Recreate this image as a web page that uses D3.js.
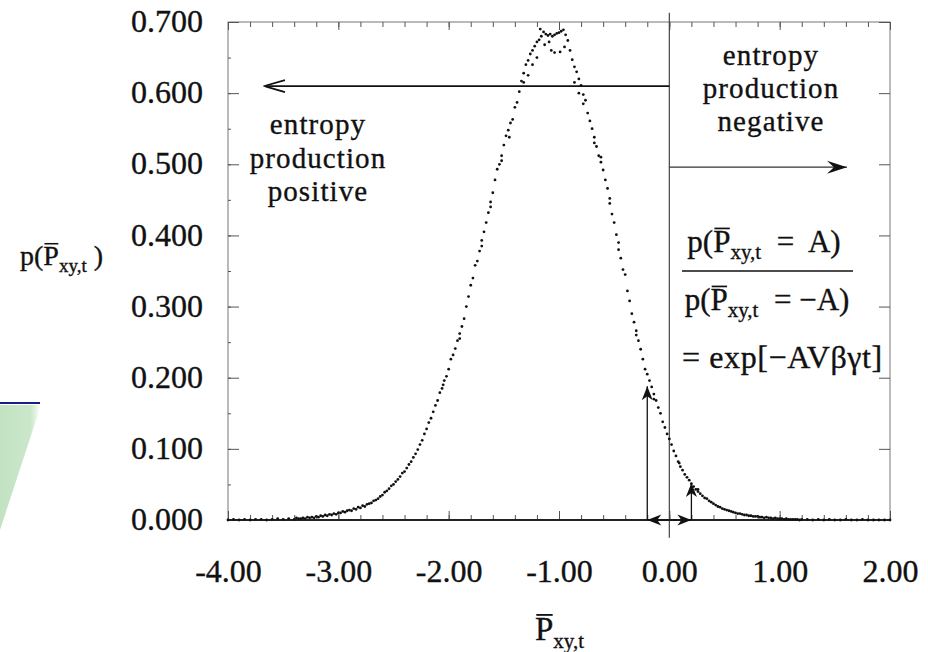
<!DOCTYPE html>
<html>
<head>
<meta charset="utf-8">
<script src="https://cdn.jsdelivr.net/npm/d3@7"></script>
<style>
  body { margin: 0; background: #fff; }
  text { font-family: "Liberation Serif", "Times New Roman", serif; fill: #111; white-space: pre; stroke: #111; stroke-width: 0.35px; }
</style>
</head>
<body>
<svg id="chart" width="928" height="652"></svg>
<script>
// tick values / labels
const xTickValues = [-4, -3, -2, -1, 0, 1, 2];
const xTickLabels = ["-4.00", "-3.00", "-2.00", "-1.00", "0.00", "1.00", "2.00"];
const yTickValues = [0, 0.1, 0.2, 0.3, 0.4, 0.5, 0.6, 0.7];
const yTickLabels = ["0.000", "0.100", "0.200", "0.300", "0.400", "0.500", "0.600", "0.700"];

// histogram points p(P)
const tailLeft = [
  [-4.00,0.000],[-3.95,0.001],[-3.90,0.000],[-3.85,0.001],[-3.80,0.000],[-3.75,0.001],
  [-3.70,0.001],[-3.65,0.000],[-3.60,0.001],[-3.55,0.002],[-3.50,0.001],[-3.45,0.002]
];
const bodyPts = [
  [-3.40,0.001],[-3.38,0.003],[-3.36,0.002],[-3.34,0.002],[-3.32,0.003],[-3.30,0.002],[-3.28,0.004],[-3.26,0.003],
  [-3.24,0.004],[-3.22,0.003],[-3.20,0.005],[-3.18,0.004],[-3.16,0.006],[-3.14,0.005],[-3.12,0.007],[-3.10,0.006],
  [-3.08,0.008],[-3.06,0.007],[-3.04,0.009],[-3.02,0.008],[-3.00,0.010],[-2.98,0.010],[-2.96,0.012],[-2.94,0.011],
  [-2.92,0.013],[-2.90,0.014],[-2.88,0.013],[-2.86,0.016],[-2.84,0.015],[-2.82,0.018],[-2.80,0.017],[-2.78,0.020],
  [-2.76,0.019],[-2.74,0.022],[-2.72,0.023],[-2.70,0.024],[-2.68,0.027],[-2.66,0.028],[-2.64,0.030],[-2.62,0.033],
  [-2.60,0.035],[-2.58,0.039],[-2.56,0.041],[-2.54,0.044],[-2.52,0.048],[-2.50,0.050],[-2.48,0.054],[-2.46,0.057],
  [-2.44,0.061],[-2.42,0.066],[-2.40,0.068],[-2.38,0.073],[-2.36,0.078],[-2.34,0.082],[-2.32,0.088],[-2.30,0.093],
  [-2.28,0.099],[-2.26,0.106],[-2.24,0.112],[-2.22,0.121],[-2.20,0.128],[-2.18,0.137],[-2.16,0.143],[-2.14,0.152],
  [-2.12,0.161],[-2.10,0.168],[-2.08,0.179],[-2.06,0.185],[-2.04,0.196],[-2.02,0.202],[-2.00,0.212],[-1.98,0.226],
  [-1.96,0.232],[-1.94,0.241],[-1.92,0.252],[-1.90,0.262],[-1.88,0.272],[-1.86,0.283],[-1.84,0.300],[-1.82,0.314],
  [-1.80,0.330],[-1.78,0.340],[-1.76,0.358],[-1.74,0.364],[-1.72,0.378],[-1.70,0.393],[-1.68,0.405],[-1.66,0.418],
  [-1.64,0.432],[-1.62,0.447],[-1.60,0.460],[-1.58,0.478],[-1.56,0.493],[-1.54,0.500],[-1.52,0.512],[-1.50,0.527],
  [-1.48,0.540],[-1.46,0.548],[-1.44,0.558],[-1.42,0.563],[-1.40,0.580],[-1.38,0.587],[-1.36,0.602],[-1.34,0.617],
  [-1.32,0.628],[-1.30,0.640],[-1.28,0.646],[-1.26,0.655],[-1.24,0.660],[-1.22,0.666],[-1.20,0.672],[-1.18,0.675],
  [-1.16,0.680],[-1.14,0.686],[-1.12,0.683],[-1.10,0.681],[-1.08,0.683],[-1.06,0.680],[-1.04,0.682],[-1.02,0.684],
  [-1.00,0.685],[-0.98,0.687],[-0.96,0.689],[-0.94,0.682],[-0.92,0.674],[-0.90,0.660],[-0.88,0.647],[-0.86,0.637],
  [-0.84,0.630],[-0.82,0.620],[-0.80,0.611],[-0.78,0.598],[-0.76,0.590],[-0.74,0.572],[-0.72,0.561],[-0.70,0.550],
  [-0.68,0.538],[-0.66,0.525],[-0.64,0.512],[-0.62,0.503],[-0.60,0.492],[-0.58,0.478],[-0.56,0.466],[-0.54,0.452],
  [-0.52,0.430],[-0.50,0.418],[-0.48,0.401],[-0.46,0.390],[-0.44,0.368],[-0.42,0.352],[-0.40,0.345],[-0.38,0.322],
  [-0.36,0.308],[-0.34,0.290],[-0.32,0.278],[-0.30,0.266],[-0.28,0.252],[-0.26,0.240],[-0.24,0.226],[-0.22,0.212],
  [-0.20,0.205],[-0.18,0.196],[-0.16,0.187],[-0.14,0.177],[-0.12,0.168],[-0.10,0.158],[-0.08,0.150],[-0.06,0.138],
  [-0.04,0.130],[-0.02,0.121],[0.00,0.114],[0.02,0.106],[0.04,0.097],[0.06,0.090],[0.08,0.082],[0.10,0.075],
  [0.12,0.070],[0.14,0.064],[0.16,0.060],[0.18,0.056],[0.20,0.051],[0.22,0.047],[0.24,0.043],[0.26,0.040],
  [0.28,0.037],[0.30,0.034],[0.32,0.031],[0.34,0.030],[0.36,0.027],[0.38,0.025],[0.40,0.023],[0.42,0.021],
  [0.44,0.019],[0.46,0.018],[0.48,0.016],[0.50,0.015],[0.52,0.014],[0.54,0.013],[0.56,0.012],[0.58,0.011],
  [0.60,0.010],[0.62,0.009],[0.64,0.009],[0.66,0.008],[0.68,0.007],[0.70,0.007],[0.72,0.006],[0.74,0.006],
  [0.76,0.005],[0.78,0.005],[0.80,0.005],[0.82,0.004],[0.84,0.004],[0.86,0.003],[0.88,0.004],[0.90,0.003],
  [0.92,0.003],[0.94,0.002],[0.96,0.003],[0.98,0.002],[1.00,0.002],[1.02,0.002],[1.04,0.001],[1.06,0.002],
  [1.08,0.001],[1.10,0.001],[1.12,0.001],[1.14,0.001],[1.16,0.001],[1.18,0.000],[1.20,0.001]
];
const tailRight = [
  [1.25,0.001],[1.30,0.000],[1.35,0.001],[1.40,0.000],[1.45,0.001],[1.50,0.000],[1.55,0.000],[1.60,0.001],
  [1.65,0.000],[1.70,0.000],[1.75,0.001],[1.80,0.000],[1.85,0.000],[1.90,0.000],[1.95,0.000],[2.00,0.000]
];
const extraPts = [
  [-1.13,0.668],[-1.07,0.660],[-1.04,0.657],[-0.99,0.658],[-0.95,0.665],[-1.20,0.650],[-1.24,0.640],
  [-1.28,0.625],[-1.32,0.615],[-0.86,0.615],[-0.82,0.600],[-0.78,0.585],[-1.45,0.538],[-1.52,0.505],
  [-1.62,0.440],[-1.70,0.385],[-0.68,0.530],[-0.62,0.510],[-0.54,0.445],[-0.46,0.380],[-1.90,0.255],
  [-2.05,0.190],[-0.30,0.260],[-0.14,0.170],[0.09,0.080],[0.26,0.043],[-1.17,0.690],[-1.09,0.672]
];

// annotation geometry (data units)
const amp = 0.2;
const ratioTips = [[-0.2, 0.188], [0.2, 0.052]];
const zeroLine = [-0.025, 0.713];
const posArrow = { y: 0.61, to: -3.665 };
const negArrow = { y: 0.496, to: 1.61 };
const posText = ["entropy", "production", "positive"];
const negText = ["entropy", "production", "negative"];

const svg = d3.select("#chart");
const x = d3.scaleLinear().domain([-4, 2]).range([228, 890]);
const y = d3.scaleLinear().domain([0, 0.7]).range([520, 22]);

const defs = svg.append("defs");
defs.append("marker").attr("id", "head").attr("viewBox", "-15 -7 16 14")
  .attr("refX", 0).attr("refY", 0).attr("markerWidth", 16).attr("markerHeight", 14)
  .attr("markerUnits", "userSpaceOnUse").attr("orient", "auto")
  .append("path").attr("d", "M0,0 L-14,-5.5 L-10,0 L-14,5.5 Z").attr("fill", "#111");
defs.append("marker").attr("id", "bighead").attr("viewBox", "-21 -8 22 16")
  .attr("refX", 0).attr("refY", 0).attr("markerWidth", 22).attr("markerHeight", 16)
  .attr("markerUnits", "userSpaceOnUse").attr("orient", "auto")
  .append("path").attr("d", "M0,0 L-20,-6.5 L-13,0 L-20,6.5 Z").attr("fill", "#111");
defs.append("marker").attr("id", "chev").attr("viewBox", "-22 -8 24 16")
  .attr("refX", 0).attr("refY", 0).attr("markerWidth", 24).attr("markerHeight", 16)
  .attr("markerUnits", "userSpaceOnUse").attr("orient", "auto")
  .append("path").attr("d", "M-20,-6 L-2,-0.8 L0,0 L-2,0.8 L-20,6").attr("fill", "none")
  .attr("stroke", "#111").attr("stroke-width", 1.8);
const grad = defs.append("linearGradient").attr("id", "green").attr("x1", 0).attr("x2", 1);
grad.append("stop").attr("offset", "0%").attr("stop-color", "#c2e2c2");
grad.append("stop").attr("offset", "75%").attr("stop-color", "#cbe7cb");
grad.append("stop").attr("offset", "100%").attr("stop-color", "#ffffff");

// slide decoration at the left edge
svg.append("path").attr("d", "M0,405 L41,405 L0,530 Z").attr("fill", "url(#green)");
svg.append("line").attr("x1", 0).attr("x2", 40).attr("y1", 403).attr("y2", 403)
  .attr("stroke", "#1c1c86").attr("stroke-width", 2);

// frame
svg.append("rect").attr("x", x(-4)).attr("y", y(0.7))
  .attr("width", x(2) - x(-4)).attr("height", y(0) - y(0.7))
  .attr("fill", "none").attr("stroke", "#777").attr("stroke-width", 1);

// axes
const styleAxis = g => {
  g.select(".domain").remove();
  g.selectAll(".tick line").attr("stroke", "#555");
  g.selectAll("text").attr("fill", "#111").style("font-family", "'Liberation Serif', serif");
};
svg.append("g").attr("transform", `translate(0,${y(0)})`)
  .call(d3.axisBottom(x).tickValues(xTickValues).tickSize(-9).tickPadding(39)
    .tickFormat((d, i) => xTickLabels[i]))
  .call(styleAxis)
  .call(g => g.selectAll("text").attr("font-size", 32));
svg.append("g").attr("transform", `translate(0,${y(0)})`)
  .call(d3.axisBottom(x).ticks(30).tickSize(-5).tickFormat(""))
  .call(styleAxis);
svg.append("g").attr("transform", `translate(0,${y(0.7)})`)
  .call(d3.axisTop(x).tickValues(xTickValues).tickSize(-8).tickFormat(""))
  .call(styleAxis);
svg.append("g").attr("transform", `translate(0,${y(0.7)})`)
  .call(d3.axisTop(x).ticks(30).tickSize(-5).tickFormat(""))
  .call(styleAxis);
svg.append("g").attr("transform", `translate(${x(-4)},0)`)
  .call(d3.axisLeft(y).tickValues(yTickValues).tickSize(-11).tickPadding(25)
    .tickFormat((d, i) => yTickLabels[i]))
  .call(styleAxis)
  .call(g => g.selectAll("text").attr("font-size", 32).attr("dy", "0.3em"));
svg.append("g").attr("transform", `translate(${x(-4)},0)`)
  .call(d3.axisLeft(y).ticks(14).tickSize(-3).tickFormat(""))
  .call(styleAxis);
svg.append("g").attr("transform", `translate(${x(2)},0)`)
  .call(d3.axisRight(y).tickValues(yTickValues).tickSize(-11).tickFormat(""))
  .call(styleAxis);

// bottom baseline darker
svg.append("line").attr("x1", x(-4)).attr("x2", x(2)).attr("y1", y(0)).attr("y2", y(0))
  .attr("stroke", "#222").attr("stroke-width", 1.8);

// zero line
svg.append("line").attr("x1", x(0)).attr("x2", x(0))
  .attr("y1", y(zeroLine[0])).attr("y2", y(zeroLine[1]))
  .attr("stroke", "#444").attr("stroke-width", 1.2);

// data dots
const allPts = tailLeft.concat(bodyPts, tailRight, extraPts);
svg.append("g").selectAll("circle").data(allPts).join("circle")
  .attr("cx", d => x(d[0])).attr("cy", d => y(d[1]))
  .attr("r", 1.4).attr("fill", "#111");

// entropy arrows
svg.append("line").attr("x1", x(0)).attr("x2", x(posArrow.to))
  .attr("y1", y(posArrow.y)).attr("y2", y(posArrow.y))
  .attr("stroke", "#111").attr("stroke-width", 1.7).attr("marker-end", "url(#chev)");
svg.append("line").attr("x1", x(0)).attr("x2", x(negArrow.to))
  .attr("y1", y(negArrow.y)).attr("y2", y(negArrow.y))
  .attr("stroke", "#333").attr("stroke-width", 1.3).attr("marker-end", "url(#bighead)");

// ratio arrows (vertical) and +-A double arrow
ratioTips.forEach(d => {
  svg.append("line").attr("x1", x(d[0])).attr("x2", x(d[0]))
    .attr("y1", y(0)).attr("y2", y(d[1]))
    .attr("stroke", "#111").attr("stroke-width", 1.3).attr("marker-end", "url(#head)");
});
[-amp, amp].forEach(a => {
  svg.append("line").attr("x1", x(0)).attr("x2", x(a))
    .attr("y1", y(0)).attr("y2", y(0))
    .attr("stroke", "#111").attr("stroke-width", 1.3).attr("marker-end", "url(#head)");
});

// annotation text
const lineText = (lines, cx, y0, step, size) => {
  lines.forEach((s, i) => {
    svg.append("text").attr("x", cx).attr("y", y0 + i * step)
      .attr("text-anchor", "middle").attr("font-size", size)
      .attr("letter-spacing", 1.1).text(s);
  });
};
lineText(posText, 318, 134, 33.5, 29);
lineText(negText, 771, 65, 33, 29);

// P-bar with xy,t subscript
function pbar(cx, cy, pre, post, size, sub, anchor, subDy) {
  const t = svg.append("text").attr("x", cx).attr("y", cy)
    .attr("font-size", size).attr("text-anchor", anchor);
  t.append("tspan").text(pre);
  t.append("tspan").text("P");
  t.append("tspan").attr("font-size", sub).attr("dy", subDy).text("xy,t");
  t.append("tspan").attr("dy", -subDy).text(post);
  const r = t.node().getExtentOfChar(pre.length);
  svg.append("line")
    .attr("x1", r.x + size * 0.04).attr("x2", r.x + r.width - size * 0.02)
    .attr("y1", cy - size * 0.76).attr("y2", cy - size * 0.76)
    .attr("stroke", "#111").attr("stroke-width", Math.max(1.3, size * 0.055));
}
pbar(20, 265, "p(", " )", 28, 19, "start", 7);
pbar(535, 640, "", "", 33, 21, "start", 8);
pbar(764, 252, "p(", "  =  A)", 31, 21, "middle", 7);
pbar(767, 310, "p(", "  = \u2212A)", 31, 21, "middle", 7);
svg.append("line").attr("x1", 682).attr("x2", 853).attr("y1", 271).attr("y2", 271)
  .attr("stroke", "#111").attr("stroke-width", 1.6);
svg.append("text").attr("x", 682).attr("y", 368).attr("font-size", 32)
  .attr("letter-spacing", 0.6)
  .text("= exp[\u2212AV\u03b2\u03b3t]");
</script>
</body>
</html>
